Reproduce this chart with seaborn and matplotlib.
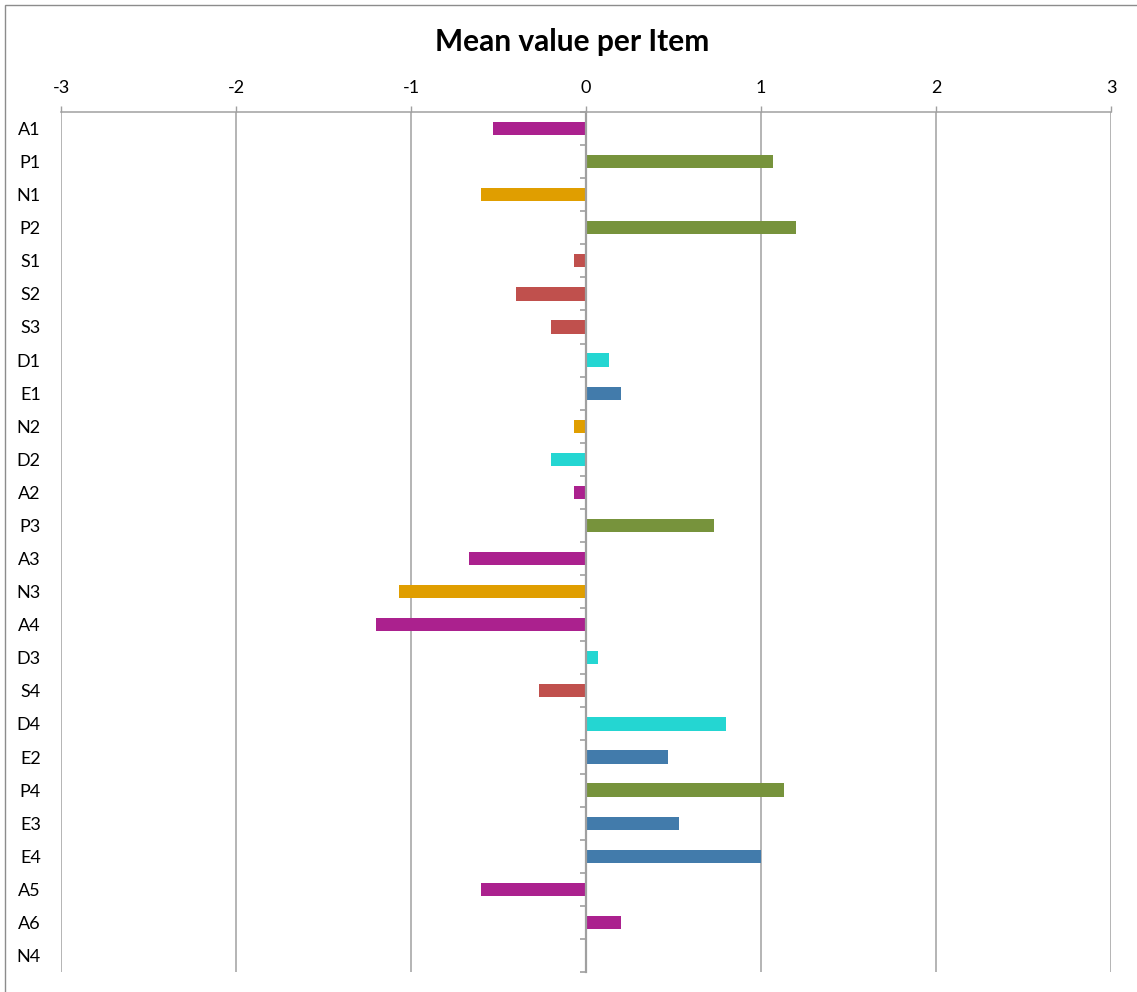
import matplotlib
matplotlib.use("Agg")
import matplotlib.pyplot as plt
import matplotlib.patches as mpatches
import numpy as np
import pandas as pd
import seaborn as sns

# Items in display order (top to bottom) and their mean values
items = ["A1", "P1", "N1", "P2", "S1", "S2", "S3", "D1", "E1", "N2", "D2", "A2", "P3",
         "A3", "N3", "A4", "D3", "S4", "D4", "E2", "P4", "E3", "E4", "A5", "A6", "N4"]
means = [-0.533, 1.067, -0.6, 1.2, -0.067, -0.4, -0.2, 0.133, 0.2, -0.067, -0.2, -0.067, 0.733,
         -0.667, -1.067, -1.2, 0.067, -0.267, 0.8, 0.467, 1.133, 0.533, 1.0, -0.6, 0.2, 0.0]

# Scale groups (first letter of the item code) and their colours
groups = ["A", "P", "N", "S", "D", "E"]
group_colors = ["#AB218E", "#77933C", "#E09E00", "#C0504D", "#24D6D2", "#427BAB"]

x_ticks = [-3, -2, -1, 0, 1, 2, 3]

df = pd.DataFrame({"item": items, "mean": means})
df["group"] = df["item"].str[0]

sns.set_theme(style="white")
plt.rcParams["font.family"] = ["Lato", "DejaVu Sans"]

W, H = 1137, 992
fig = plt.figure(figsize=(W / 100, H / 100), dpi=100)
fig.patch.set_facecolor("white")

# Chart-area border (left and top edges visible)
fig.add_artist(mpatches.Rectangle((5 / W, -0.05), 1.2, 1 - 5 / H + 0.05,
                                  transform=fig.transFigure, fill=False,
                                  edgecolor="#8C8C8C", linewidth=1.0))

rect = [61 / W, 1 - 972 / H, (1111 - 61) / W, (972 - 112) / H]
ax = fig.add_axes(rect)

sns.barplot(data=df, x="mean", y="item", hue="group", order=items,
            hue_order=groups, palette=dict(zip(groups, group_colors)),
            dodge=False, width=0.4, orient="h", legend=False, ax=ax,
            saturation=1, edgecolor="none", linewidth=0)

grid_col = "#A0A0A0"
ax.set_xlim(-3, 3)
ax.set_ylim(len(items) - 0.5, -0.5)
ax.set_xticks(x_ticks)
ax.set_xticklabels([str(t) for t in x_ticks])
ax.xaxis.tick_top()
ax.grid(axis="x", color=grid_col, linewidth=1.1)
ax.grid(axis="y", visible=False)
ax.set_axisbelow(True)
ax.tick_params(axis="x", direction="out", length=4.5, width=1.0, color=grid_col,
               labelsize=13, pad=7, labelcolor="black")
ax.tick_params(axis="y", length=0, labelsize=13, pad=14.5, labelcolor="black")
ax.set_xlabel("")
ax.set_ylabel("")
for side in ["left", "right", "bottom"]:
    ax.spines[side].set_visible(False)
ax.spines["top"].set_color(grid_col)
ax.spines["top"].set_linewidth(1.1)
ax.set_facecolor("white")

# Category axis drawn at x = 0 with ticks between items (overlay axes)
cat_ax = fig.add_axes(rect, sharey=ax, facecolor="none")
cat_ax.set_xlim(-3, 3)
cat_ax.set_xticks([])
for side in ["right", "top", "bottom"]:
    cat_ax.spines[side].set_visible(False)
cat_ax.spines["left"].set_position(("data", 0))
cat_ax.spines["left"].set_color(grid_col)
cat_ax.spines["left"].set_linewidth(1.6)
cat_ax.yaxis.set_ticks_position("left")
cat_ax.set_yticks(np.arange(len(items) + 1) - 0.5, minor=True)
cat_ax.tick_params(axis="y", which="major", length=0, labelleft=False)
cat_ax.tick_params(axis="y", which="minor", direction="out", length=4.5, width=1.2,
                   color=grid_col, left=True, labelleft=False)
cat_ax.grid(False)

fig.text(572 / W, 1 - 42 / H, "Mean value per Item", ha="center", va="center",
         fontsize=21.5, fontweight="bold", color="black")

fig.savefig("out.png", dpi=100, facecolor="white")
